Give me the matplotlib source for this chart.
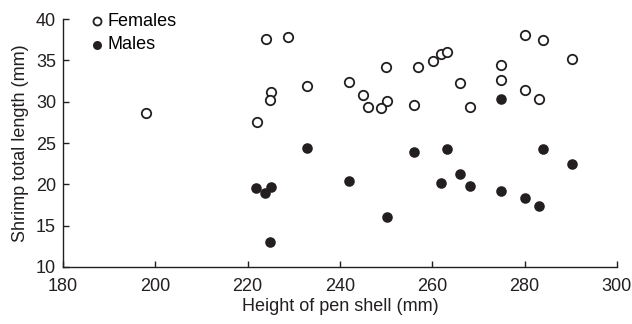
import matplotlib
matplotlib.use('Agg')
import matplotlib.pyplot as plt

plt.rcParams['font.family'] = ['Liberation Sans', 'DejaVu Sans']

# Females: pen shell height (mm), shrimp total length (mm)
female_height = [198, 224, 228.8, 232.8, 225, 224.8, 222, 242, 245, 246, 250, 250.2, 249,
                 256, 257, 260.2, 262, 263.2, 266, 268.2, 275, 275, 280.1, 284, 280.1,
                 283.2, 290.2]
female_length = [28.6, 37.6, 37.85, 31.9, 31.2, 30.2, 27.6, 32.4, 30.8, 29.4, 34.2, 30.1, 29.3,
                 29.6, 34.2, 34.9, 35.8, 36.0, 32.3, 29.35, 34.5, 32.65, 38.1, 37.5, 31.4,
                 30.3, 35.2]

# Males
male_height = [232.9, 221.8, 223.75, 225, 224.8, 242, 250.1, 256, 263.1, 262, 266, 268.2,
               275, 280.1, 283.1, 284, 290.2, 275]
male_length = [24.4, 19.6, 18.9, 19.7, 13.0, 20.4, 16.0, 23.9, 24.3, 20.2, 21.3, 19.8,
               19.2, 18.3, 17.4, 24.3, 22.5, 30.35]

dark = '#231f20'

fig = plt.figure(figsize=(6.32, 3.24), dpi=100)
ax = fig.add_axes([0.0997, 0.176, 0.8763, 0.765])

ax.scatter(female_height, female_length, s=46, facecolors='white', edgecolors=dark,
           linewidths=1.3, label='Females', zorder=3)
ax.scatter(male_height, male_length, s=58, color=dark, linewidths=0, label='Males', zorder=3)

ax.set_xlim(180, 300)
ax.set_ylim(10, 40)
ax.set_xticks(range(180, 301, 20))
ax.set_yticks(range(10, 41, 5))
ax.spines['top'].set_visible(False)
ax.spines['right'].set_visible(False)
for sp in ['left', 'bottom']:
    ax.spines[sp].set_color(dark)
    ax.spines[sp].set_linewidth(1.0)
ax.tick_params(direction='in', length=4, width=1, colors=dark, labelsize=13)
ax.tick_params(axis='x', pad=8)
ax.tick_params(axis='y', pad=5)
ax.set_xlabel('Height of pen shell (mm)', fontsize=13, color=dark, labelpad=2)
ax.set_ylabel('Shrimp total length (mm)', fontsize=13, color=dark, labelpad=5)

ax.legend(loc='upper left', bbox_to_anchor=(0.032, 1.054), frameon=False, fontsize=13,
          handlelength=1.0, handletextpad=0.11, labelspacing=0.35, borderaxespad=0,
          markerscale=0.85)

fig.savefig('out.png', dpi=100)
